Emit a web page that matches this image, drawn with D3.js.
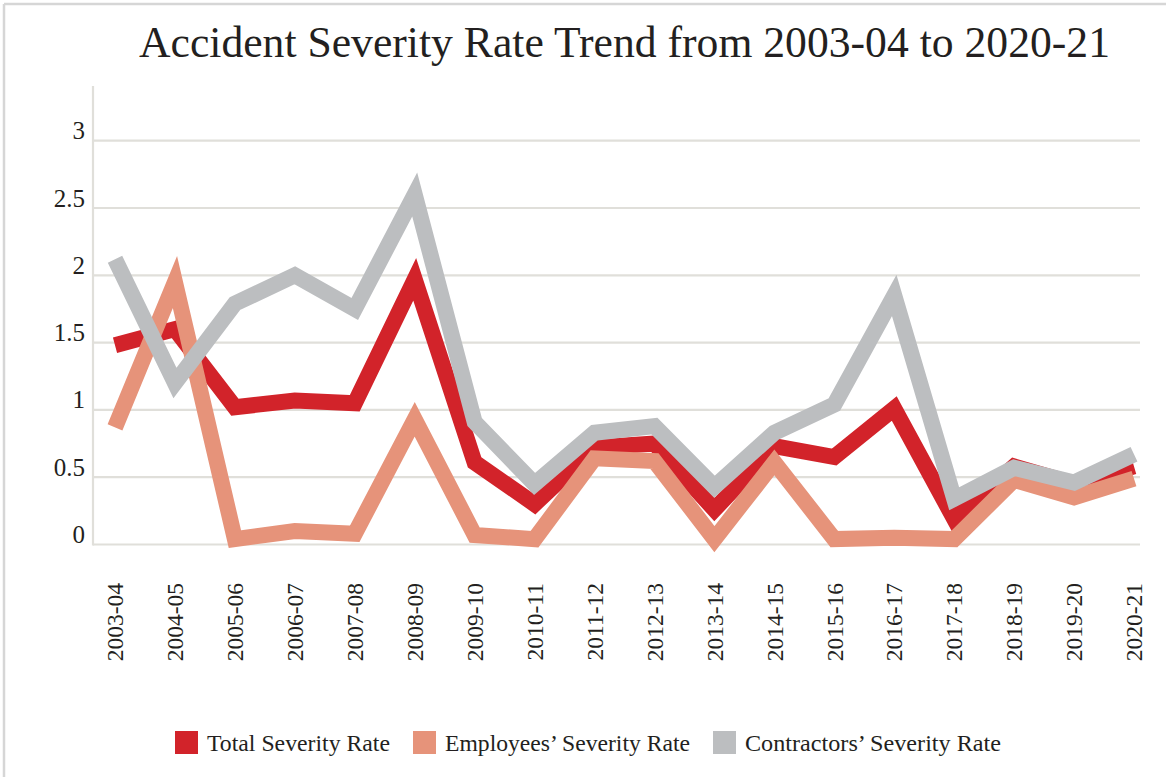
<!DOCTYPE html>
<html>
<head>
<meta charset="utf-8">
<script src="https://cdn.jsdelivr.net/npm/d3@7"></script>
<style>
  html, body { margin: 0; padding: 0; background: #fff; }
  svg { display: block; }
  text { font-family: "Liberation Serif", "DejaVu Serif", serif; fill: #231f20; }
</style>
</head>
<body>
<svg id="chart" width="1166" height="777"></svg>
<script>
const years = ["2003-04","2004-05","2005-06","2006-07","2007-08","2008-09","2009-10","2010-11","2011-12","2012-13","2013-14","2014-15","2015-16","2016-17","2017-18","2018-19","2019-20","2020-21"];
const totalRate =      [1.48, 1.60, 1.02, 1.07, 1.05, 1.97, 0.61, 0.30, 0.72, 0.75, 0.26, 0.73, 0.65, 1.01, 0.19, 0.58, 0.45, 0.58];
const employeesRate =  [0.87, 1.95, 0.04, 0.10, 0.08, 0.93, 0.07, 0.04, 0.64, 0.62, 0.04, 0.61, 0.04, 0.05, 0.04, 0.48, 0.35, 0.49];
const contractorsRate =[2.12, 1.20, 1.79, 2.00, 1.75, 2.60, 0.91, 0.45, 0.83, 0.88, 0.43, 0.83, 1.04, 1.85, 0.34, 0.57, 0.46, 0.67];
const yTicks = [0, 0.5, 1, 1.5, 2, 2.5, 3];
const seriesNames = ["Total Severity Rate", "Employees\u2019 Severity Rate", "Contractors\u2019 Severity Rate"];
const seriesColors = ["#d2232a", "#e6937a", "#bcbec0"];
const titleText = "Accident Severity Rate Trend from 2003-04 to 2020-21";

const svg = d3.select("#chart");
const gridColor = "#e0dfda";

// outer frame (top and left edges)
svg.append("line").attr("x1", 4).attr("x2", 1166).attr("y1", 4).attr("y2", 4)
  .attr("stroke", "#d6d6d6").attr("stroke-width", 2.5);
svg.append("line").attr("x1", 4).attr("x2", 4).attr("y1", 4).attr("y2", 777)
  .attr("stroke", "#d6d6d6").attr("stroke-width", 2.5);

// title
svg.append("text").attr("x", 139).attr("y", 57)
  .attr("font-size", 45).attr("textLength", 971).attr("lengthAdjust", "spacingAndGlyphs")
  .text(titleText);

const x = d3.scalePoint().domain(years).range([115, 1134]);
const y = d3.scaleLinear().domain([0, 3]).range([544.5, 140.7]);

// gridlines
svg.append("g").selectAll("line").data(yTicks).join("line")
  .attr("x1", 93).attr("x2", 1140)
  .attr("y1", d => y(d)).attr("y2", d => y(d))
  .attr("stroke", gridColor).attr("stroke-width", 2.2);

// y axis line
svg.append("line").attr("x1", 93).attr("x2", 93).attr("y1", 86).attr("y2", 545.6)
  .attr("stroke", gridColor).attr("stroke-width", 2.2);

// y tick labels
svg.append("g").selectAll("text").data(yTicks).join("text")
  .attr("x", 85).attr("y", d => y(d) - 1.5)
  .attr("text-anchor", "end").attr("font-size", 25)
  .text(d => d3.format("")(d));

// x tick labels (rotated)
svg.append("g").selectAll("text").data(years).join("text")
  .attr("transform", d => `translate(${x(d)},583) rotate(-90)`)
  .attr("text-anchor", "end").attr("dy", "0.35em").attr("font-size", 23.5)
  .text(d => d);

// lines: total at bottom, employees, contractors on top
const line = d3.line().x((d, i) => x(years[i])).y(d => y(d));
const drawOrder = [
  {vals: totalRate, color: seriesColors[0]},
  {vals: employeesRate, color: seriesColors[1]},
  {vals: contractorsRate, color: seriesColors[2]}
];
svg.append("g").selectAll("path").data(drawOrder).join("path")
  .attr("d", d => line(d.vals))
  .attr("fill", "none").attr("stroke", d => d.color)
  .attr("stroke-width", 16).attr("stroke-linejoin", "miter").attr("stroke-miterlimit", 10)
  .attr("stroke-linecap", "butt");

// legend
const legendX = [175, 413, 713];
const legendW = [183, 245, 256];
const lg = svg.append("g").selectAll("g").data(seriesNames).join("g")
  .attr("transform", (d, i) => `translate(${legendX[i]},731)`);
lg.append("rect").attr("width", 23).attr("height", 23).attr("fill", (d, i) => seriesColors[i]);
lg.append("text").attr("x", 32).attr("y", 20).attr("font-size", 23)
  .attr("textLength", (d, i) => legendW[i]).attr("lengthAdjust", "spacingAndGlyphs")
  .text(d => d);
</script>
</body>
</html>
